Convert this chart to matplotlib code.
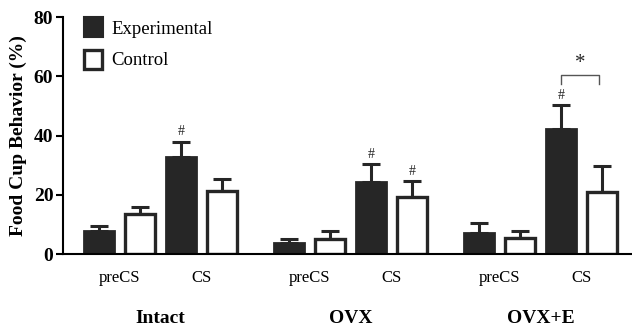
import matplotlib.pyplot as plt
import numpy as np

groups = ['Intact', 'OVX', 'OVX+E']
phases = ['preCS', 'CS']
exp_mean = [7.7, 32.7, 3.8, 24.4, 7.2, 42.4]
exp_err = [1.9, 5.3, 1.4, 6.0, 3.3, 7.9]
ctl_mean = [13.7, 21.5, 5.3, 19.3, 5.6, 21.0]
ctl_err = [2.2, 4.0, 2.7, 5.3, 2.2, 8.6]
exp_hash = [False, True, False, True, False, True]
ctl_hash = [False, False, False, True, False, False]

plt.rcParams['font.family'] = ['Liberation Serif', 'DejaVu Serif']

fig = plt.figure(figsize=(6.32, 3.28), dpi=100)
ax = fig.add_axes([63 / 632, 1 - 254.3 / 328, 1 - 63 / 632, (254.3 - 17) / 328])

# bar centres (units ~ pixels)
idx = np.arange(len(exp_mean))
base = 99 + (idx // 2) * 190 + (idx % 2) * 82
xe = base
xc = base + 41
w = 30

dark = '#262626'
ax.bar(xe, exp_mean, w, color=dark, edgecolor=dark, linewidth=2, zorder=2)
ax.bar(xc, ctl_mean, w, color='white', edgecolor=dark, linewidth=2.4, zorder=2)
ax.errorbar(xe, exp_mean, yerr=[np.zeros(6), exp_err], fmt='none', ecolor=dark,
            elinewidth=2.2, capsize=6.5, capthick=2.2, zorder=1)
ax.errorbar(xc, ctl_mean, yerr=[np.zeros(6), ctl_err], fmt='none', ecolor=dark,
            elinewidth=2.2, capsize=6.5, capthick=2.2, zorder=1)

for i in idx:
    if exp_hash[i]:
        ax.text(xe[i], exp_mean[i] + exp_err[i] + 1.2, '#', ha='center', va='bottom',
                fontsize=10, color=dark)
    if ctl_hash[i]:
        ax.text(xc[i], ctl_mean[i] + ctl_err[i] + 1.2, '#', ha='center', va='bottom',
                fontsize=10, color=dark)

# significance bracket
bx0, bx1 = xe[5], xc[5] - 3
ax.plot([bx0, bx0, bx1, bx1], [57.4, 60.3, 60.3, 57.4], color='#555555', lw=1.0,
        clip_on=False)
ax.text((bx0 + bx1) / 2, 61.0, '*', ha='center', va='bottom', fontsize=15, color=dark)

ax.set_xlim(63, 632)
ax.set_ylim(0, 80)
ax.set_yticks([0, 20, 40, 60, 80])
ax.set_yticklabels(['0', '20', '40', '60', '80'], fontsize=14, fontweight='bold')
ax.set_xticks([])
ax.spines['top'].set_visible(False)
ax.spines['right'].set_visible(False)
ax.spines['left'].set_linewidth(1.5)
ax.spines['bottom'].set_linewidth(1.5)
ax.tick_params(axis='y', length=5, width=1.5, pad=2)
ax.set_ylabel('Food Cup Behavior (%)', fontsize=14, fontweight='bold', labelpad=5)

for i in idx:
    ax.text((xe[i] + xc[i]) / 2, -8, phases[i % 2], ha='center', va='center',
            fontsize=12, clip_on=False)
for g, name in enumerate(groups):
    cx = (xe[2 * g] + xc[2 * g + 1]) / 2
    ax.text(cx, -21.5, name, ha='center', va='center', fontsize=14,
            fontweight='bold', clip_on=False)

# legend
ax.bar([93], [6.6], 19, bottom=[73.3], color=dark, edgecolor=dark, lw=1.5, zorder=3,
       clip_on=False)
ax.bar([93], [6.3], 18, bottom=[62.6], color='white', edgecolor=dark, lw=2.4, zorder=3)
ax.text(111, 75.8, 'Experimental', va='center', fontsize=13.5)
ax.text(111, 65.2, 'Control', va='center', fontsize=13.5)

fig.savefig('out.png', dpi=100)
